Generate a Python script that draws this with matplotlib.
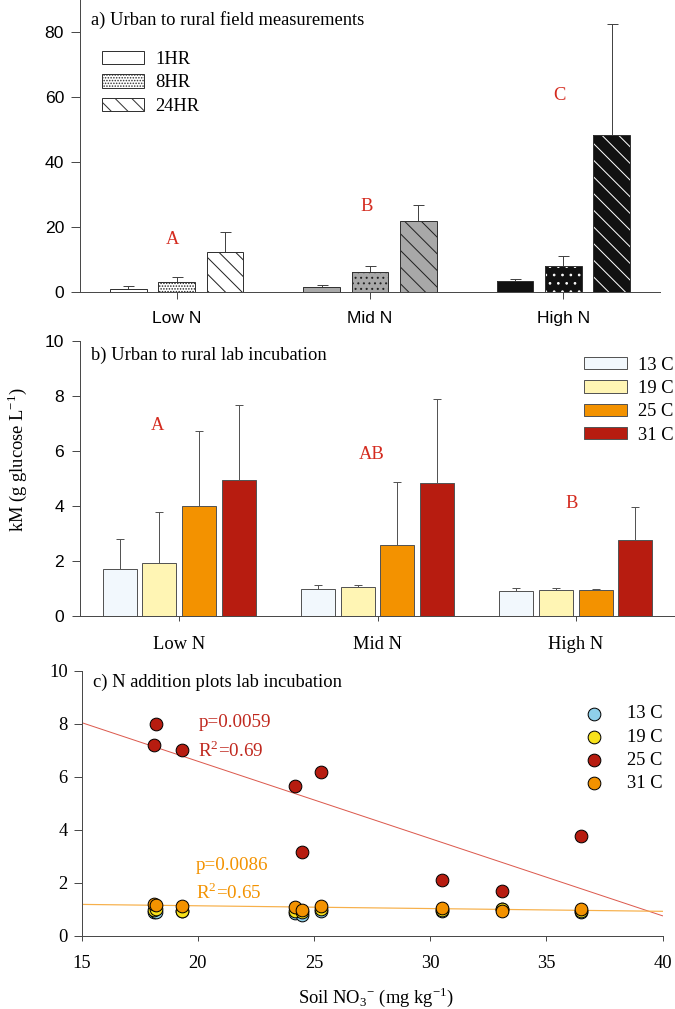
import numpy as np
import matplotlib
matplotlib.use("Agg")
import matplotlib.pyplot as plt
from matplotlib.patches import Patch

SERIF = "Liberation Serif"
SANS = "Liberation Sans"
W, H = 675, 1009
DPI = 100


def pt(px):
    """convert a size in pixels to points at the figure dpi"""
    return px * 72.0 / DPI


plt.rcParams["font.family"] = SERIF
plt.rcParams["mathtext.fontset"] = "custom"
plt.rcParams["mathtext.rm"] = SERIF
plt.rcParams["hatch.linewidth"] = pt(1.0)
plt.rcParams["axes.linewidth"] = pt(1.0)

# ---------------- data ----------------
categories = ["Low N", "Mid N", "High N"]

# panel a: field measurements
field_1hr = [1.0, 1.4, 3.4]
field_1hr_err = [0.7, 0.7, 0.5]
field_8hr = [3.1, 6.3, 8.0]
field_8hr_err = [1.6, 1.8, 3.1]
field_24hr = [12.2, 22.0, 48.5]
field_24hr_err = [6.2, 4.9, 34.2]
field_series = ["1HR", "8HR", "24HR"]
letters_a = ["A", "B", "C"]
letters_a_y = [14.8, 25.0, 59.3]

# panel b: lab incubation
temps = ["13 C", "19 C", "25 C", "31 C"]
lab_13 = [1.70, 1.00, 0.92]
lab_13_err = [1.10, 0.12, 0.09]
lab_19 = [1.92, 1.05, 0.96]
lab_19_err = [1.85, 0.09, 0.05]
lab_25 = [3.99, 2.58, 0.95]
lab_25_err = [2.73, 2.31, 0.04]
lab_31 = [4.95, 4.84, 2.77]
lab_31_err = [2.74, 3.06, 1.19]
letters_b = ["A", "AB", "B"]
letters_b_x = [-0.11, 0.97, 1.98]
letters_b_y = [6.78, 5.72, 3.94]

# panel c: N addition plots
soil_no3 = [18.1, 18.2, 19.3, 24.2, 24.5, 25.3, 30.5, 33.1, 36.5]
km_13 = [0.90, 0.88, 0.92, 0.85, 0.80, 0.95, 0.95, 1.00, 0.90]
km_19 = [0.97, 1.00, 0.95, 0.95, 0.88, 1.00, 0.97, 1.02, 0.92]
km_25 = [7.20, 8.00, 7.00, 5.65, 3.15, 6.18, 2.10, 1.70, 3.77]
km_31 = [1.20, 1.15, 1.12, 1.10, 0.97, 1.12, 1.03, 0.95, 1.00]
stats_25 = ["p=0.0059", "R$^\\mathregular{2}$=0.69"]
stats_31 = ["p=0.0086", "R$^\\mathregular{2}$=0.65"]

# ---------------- figure ----------------
fig = plt.figure(figsize=(W / DPI, H / DPI), dpi=DPI)
FS = pt(18.5)
FS_T = pt(17.5)
LW = pt(1.0)
DIAG = "\\\\"


def axes_px(left, top, right, bottom):
    return fig.add_axes([left / W, 1 - bottom / H, (right - left) / W, (bottom - top) / H])


spine_col = "#4a4a4a"
red_txt = "#d42a1e"

# ======== panel a ========
axa = axes_px(80, 0, 660, 292)
x = np.arange(len(categories))
off_a = 0.25
wa = 0.19
fills = ["white", "#a8a8a8", "#111111"]
hatch_cols = ["#222222", "#222222", "white"]
vals_a = [field_1hr, field_8hr, field_24hr]
errs_a = [field_1hr_err, field_8hr_err, field_24hr_err]
hatches_a = [[None, None, None], ["......", "...", ".."], [DIAG, DIAG, DIAG]]
for k in range(3):
    for g in range(3):
        xp = x[g] + (k - 1) * off_a
        axa.bar(xp, vals_a[k][g], width=wa, color=fills[g],
                edgecolor=hatch_cols[g], hatch=hatches_a[k][g], linewidth=0, zorder=2)
        axa.bar(xp, vals_a[k][g], width=wa, fill=False,
                edgecolor="#333333", linewidth=LW, zorder=3)
        axa.errorbar(xp, vals_a[k][g], yerr=[[0], [errs_a[k][g]]], fmt="none",
                     ecolor="#444444", elinewidth=LW, capsize=pt(5.5), capthick=LW, zorder=1)
for g in range(3):
    axa.text(x[g] - 0.02, letters_a_y[g], letters_a[g], color=red_txt, fontsize=FS,
             ha="center", va="baseline")
axa.set_xlim(-0.5, 2.5)
axa.set_ylim(0, 90)
axa.set_yticks([0, 20, 40, 60, 80])
axa.set_xticks(x)
axa.set_xticklabels(categories, family=SANS, fontsize=FS_T)
for lab in axa.get_yticklabels():
    lab.set_family(SANS)
    lab.set_fontsize(FS_T)
axa.tick_params(axis="y", length=pt(9), width=LW, color=spine_col, pad=pt(7))
axa.tick_params(axis="x", length=pt(7), width=LW, color=spine_col, pad=pt(12))
for s in ["top", "right"]:
    axa.spines[s].set_visible(False)
for s in ["left", "bottom"]:
    axa.spines[s].set_color(spine_col)
axa.patch.set_alpha(0)
fig.text(90.7 / W, 1 - 25 / H, "a) Urban to rural field measurements",
         fontsize=FS, ha="left", va="baseline")
leg_a = [Patch(facecolor="white", edgecolor="#333333", linewidth=LW, label=field_series[0]),
         Patch(facecolor="white", edgecolor="#333333", linewidth=LW, hatch="......",
               label=field_series[1]),
         Patch(facecolor="white", edgecolor="#333333", linewidth=LW, hatch=DIAG,
               label=field_series[2])]
axa.legend(handles=leg_a, loc="upper left", bbox_to_anchor=(22 / 580, 0.827),
           frameon=False, fontsize=FS, handlelength=2.27, handleheight=0.76,
           handletextpad=0.6, labelspacing=0.34, borderpad=0, borderaxespad=0)

# ======== panel b ========
axb = axes_px(80, 341, 675, 616)
off_b = [-0.3, -0.1, 0.1, 0.3]
wb = 0.17
cols_b = ["#f2f8fd", "#fff5b4", "#f39200", "#b71c10"]
vals_b = [lab_13, lab_19, lab_25, lab_31]
errs_b = [lab_13_err, lab_19_err, lab_25_err, lab_31_err]
for k in range(4):
    axb.bar(x + off_b[k], vals_b[k], width=wb, color=cols_b[k], edgecolor="#555555",
            linewidth=LW, label=temps[k], zorder=2)
    axb.errorbar(x + off_b[k], vals_b[k], yerr=[np.zeros(3), errs_b[k]], fmt="none",
                 ecolor="#555555", elinewidth=LW, capsize=pt(4), capthick=LW, zorder=1)
for g in range(3):
    axb.text(letters_b_x[g], letters_b_y[g], letters_b[g], color=red_txt, fontsize=FS,
             ha="center", va="baseline")
axb.set_xlim(-0.5, 2.5)
axb.set_ylim(0, 10)
axb.set_yticks([0, 2, 4, 6, 8, 10])
axb.set_xticks(x)
axb.set_xticklabels(categories, fontsize=FS)
for lab in axb.get_yticklabels():
    lab.set_family(SANS)
    lab.set_fontsize(FS_T)
axb.tick_params(axis="y", length=pt(8), width=LW, color=spine_col, pad=pt(8))
axb.tick_params(axis="x", length=pt(5), width=LW, color=spine_col, pad=pt(15))
for s in ["top", "right"]:
    axb.spines[s].set_visible(False)
for s in ["left", "bottom"]:
    axb.spines[s].set_color(spine_col)
axb.patch.set_alpha(0)
fig.text(90.7 / W, 1 - 360 / H, "b) Urban to rural lab incubation",
         fontsize=FS, ha="left", va="baseline")
axb.legend(loc="upper left", bbox_to_anchor=(0.847, 0.943), frameon=False, fontsize=FS,
           handlelength=2.32, handleheight=0.65, handletextpad=0.6, labelspacing=0.34,
           borderpad=0, borderaxespad=0)
fig.text(17 / W, 1 - 460 / H, "kM (g glucose L$^{\\mathregular{-1}}$)", rotation=90,
         ha="center", va="center", fontsize=FS)

# ======== panel c ========
axc = axes_px(81.7, 670.7, 662.5, 935.7)
xs = np.array(soil_no3)
xl = np.array([15, 40])
c_blue, c_yel, c_red, c_org = "#8fd0ea", "#f8e21b", "#b71c10", "#f39200"
fit25 = np.polyfit(xs, km_25, 1)
fit31 = np.polyfit(xs, km_31, 1)
axc.plot(xl, np.polyval(fit25, xl), color="#dc5a4e", lw=LW, zorder=1)
axc.plot(xl, np.polyval(fit31, xl), color="#f7b04a", lw=pt(1.2), zorder=1)
kw = dict(s=pt(12.7) ** 2, edgecolor="black", linewidth=LW, zorder=3)
axc.scatter(xs, km_13, color=c_blue, label=temps[0], **kw)
axc.scatter(xs, km_19, color=c_yel, label=temps[1], **kw)
axc.scatter(xs, km_25, color=c_red, label=temps[2], **kw)
axc.scatter(xs, km_31, color=c_org, label=temps[3], **kw)
FS_S = pt(19)
axc.text(20.02, 7.86, stats_25[0], color="#c0281e", fontsize=FS_S, ha="left", va="baseline")
axc.text(20.02, 6.75, stats_25[1], color="#c0281e", fontsize=FS_S, ha="left", va="baseline")
axc.text(19.92, 2.48, stats_31[0], color="#f39200", fontsize=FS_S, ha="left", va="baseline")
axc.text(19.92, 1.37, stats_31[1], color="#f39200", fontsize=FS_S, ha="left", va="baseline")
axc.set_xlim(15, 40)
axc.set_ylim(0, 10)
axc.set_xticks([15, 20, 25, 30, 35, 40])
axc.set_yticks([0, 2, 4, 6, 8, 10])
axc.tick_params(labelsize=FS, length=pt(8), width=LW, color=spine_col, pad=pt(6))
axc.tick_params(axis="x", length=pt(5), pad=pt(14))
for s in ["top", "right"]:
    axc.spines[s].set_visible(False)
for s in ["left", "bottom"]:
    axc.spines[s].set_color(spine_col)
axc.patch.set_alpha(0)
fig.text(92.7 / W, 1 - 686.7 / H, "c) N addition plots lab incubation",
         fontsize=FS, ha="left", va="baseline")
fig.text(376 / W, 1 - 997 / H,
         "Soil NO$_\\mathregular{3}$$^\\mathregular{-}$ (mg kg$^\\mathregular{-1}$)",
         fontsize=FS, ha="center", va="center")
axc.legend(loc="upper left", bbox_to_anchor=(0.857, 0.869), frameon=False, fontsize=FS,
           handlelength=1.6, handletextpad=0.98, labelspacing=0.34, borderpad=0,
           borderaxespad=0, scatterpoints=1)

fig.savefig("out.png", dpi=DPI)
